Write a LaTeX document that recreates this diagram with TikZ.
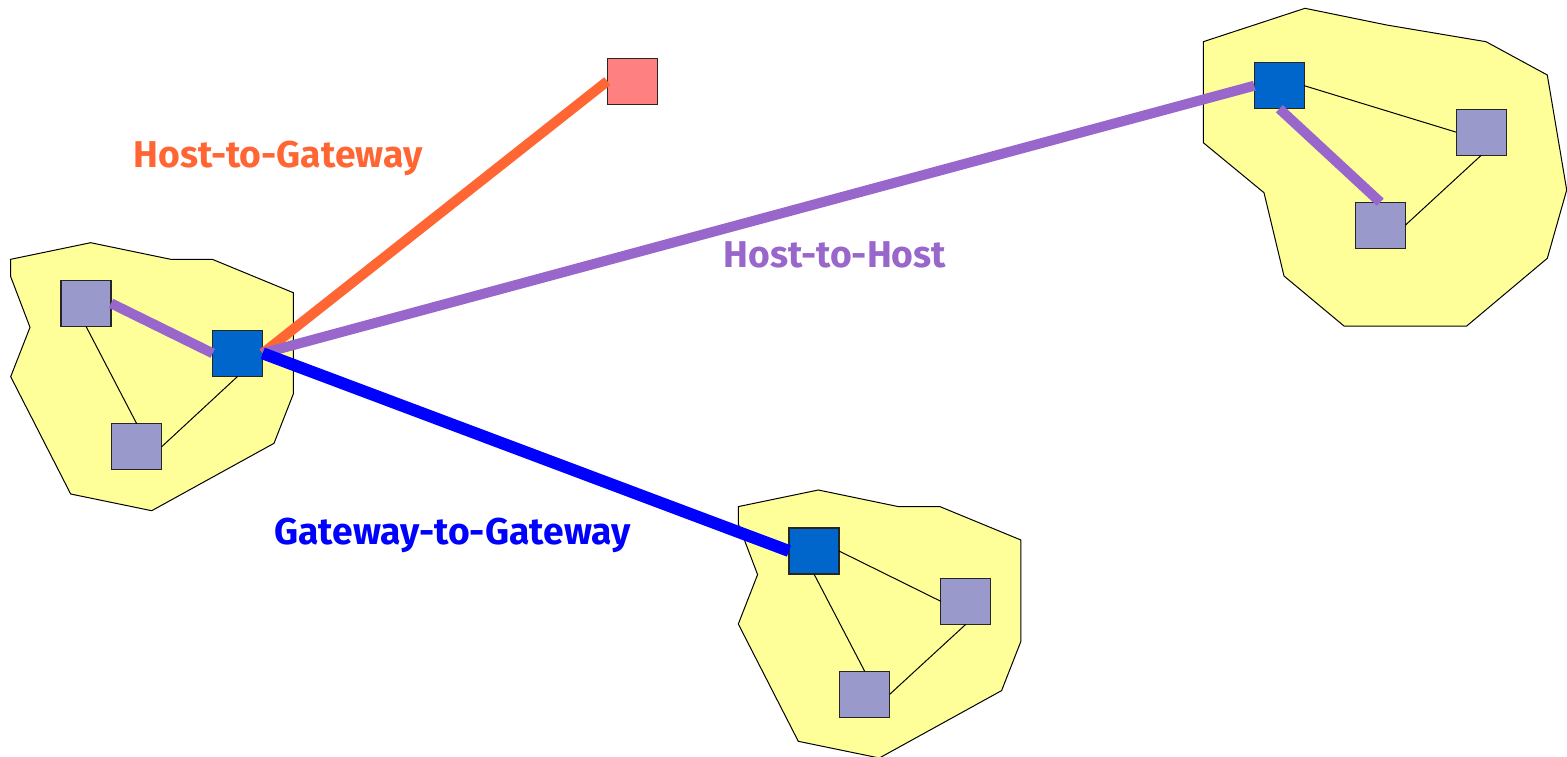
\documentclass[tikz,border=0pt]{standalone}
\usepackage{fontspec}
\setmainfont{Fira Sans}
\definecolor{netyellow}{HTML}{FFFF99}
\definecolor{hostgray}{HTML}{9999CC}
\definecolor{gwblue}{HTML}{0066CC}
\definecolor{remotered}{HTML}{FF8080}
\definecolor{hgorange}{HTML}{FF6633}
\definecolor{hhpurple}{HTML}{9966CC}
\definecolor{ggblue}{HTML}{0000FF}
\begin{document}
\begin{tikzpicture}[x=1pt,y=-1pt,
  net/.style={fill=netyellow, draw=black, line width=1pt, line join=miter},
  box/.style={draw=black!85, line width=1.2pt, minimum width=50pt, minimum height=46pt, inner sep=0pt, outer sep=0pt},
  host/.style={box, fill=hostgray},
  gw/.style={box, fill=gwblue},
  remote/.style={box, fill=remotered},
  link/.style={draw=black, line width=1pt},
  tunnel/.style={line width=10pt},
  lbl/.style={font=\bfseries\fontsize{37.3}{37.3}\selectfont, anchor=base, inner sep=0pt}
]
\fill[white] (0,0) rectangle (1567,756);
\useasboundingbox (0,0) rectangle (1567,756);

% local networks
\newcommand{\lanoutline}{(10.7,259.3) -- (90.7,242.7) -- (170.7,259.3) -- (212.3,259.3) -- (293.3,292.7) -- (293.3,394) -- (274,443.3) -- (151.7,510.7) -- (70.7,494) -- (10.7,376.7) -- (30,327.3) -- (10.7,276.7) -- cycle}
\draw[net] \lanoutline;
\begin{scope}[shift={(727.6,247.3)}]
  \draw[net] \lanoutline;
\end{scope}
\draw[net] (1203.3,41.7) -- (1305,8.3) -- (1386.7,25) -- (1486,41.7) -- (1547.3,75) -- (1566.7,190) -- (1547.3,258.3) -- (1466.7,326) -- (1344,326) -- (1284,276) -- (1264,192.7) -- (1203.3,142.7) -- cycle;

% machines
\node[host] (lh1) at (86,303.3) {};
\node[gw]   (lgw) at (237.7,353.3) {};
\node[host] (lh2) at (136.7,446.7) {};

\node[gw]   (bgw) at (814,551) {};
\node[host] (bh1) at (965.8,601.3) {};
\node[host] (bh2) at (864.7,694.3) {};

\node[gw]   (rgw) at (1279.3,85.7) {};
\node[host] (rh1) at (1481.3,132.2) {};
\node[host] (rh2) at (1380.3,225.2) {};

\node[remote] (rr) at (632.3,81.2) {};

% local links
\draw[link] (lh1.south) -- (lh2.north);
\draw[link] (lgw.south) -- (lh2.east);
\draw[link] (bgw.east) -- (bh1.west);
\draw[link] (bgw.south) -- (bh2.north);
\draw[link] (bh1.south) -- (bh2.east);
\draw[link] (rgw.east) -- (rh1.west);
\draw[link] (rh1.south) -- (rh2.east);

% tunnels
\draw[tunnel, hgorange] (lgw.east) -- (rr.west);
\draw[tunnel, hhpurple] (lh1.east) -- (lgw.west);
\draw[tunnel, hhpurple] (lgw.east) -- (rgw.west);
\draw[tunnel, hhpurple] (rgw.south) -- (rh2.north);
\draw[tunnel, ggblue, line width=12pt] (lgw.east) -- (bgw.west);

% labels
\node[lbl, text=hgorange] (lhg) at (278,167) {Host-to-Gateway};
\node[lbl, text=hhpurple] (lhh) at (835,267) {Host-to-Host};
\node[lbl, text=ggblue]   (lgg) at (452.5,544) {Gateway-to-Gateway};
\end{tikzpicture}
\end{document}
